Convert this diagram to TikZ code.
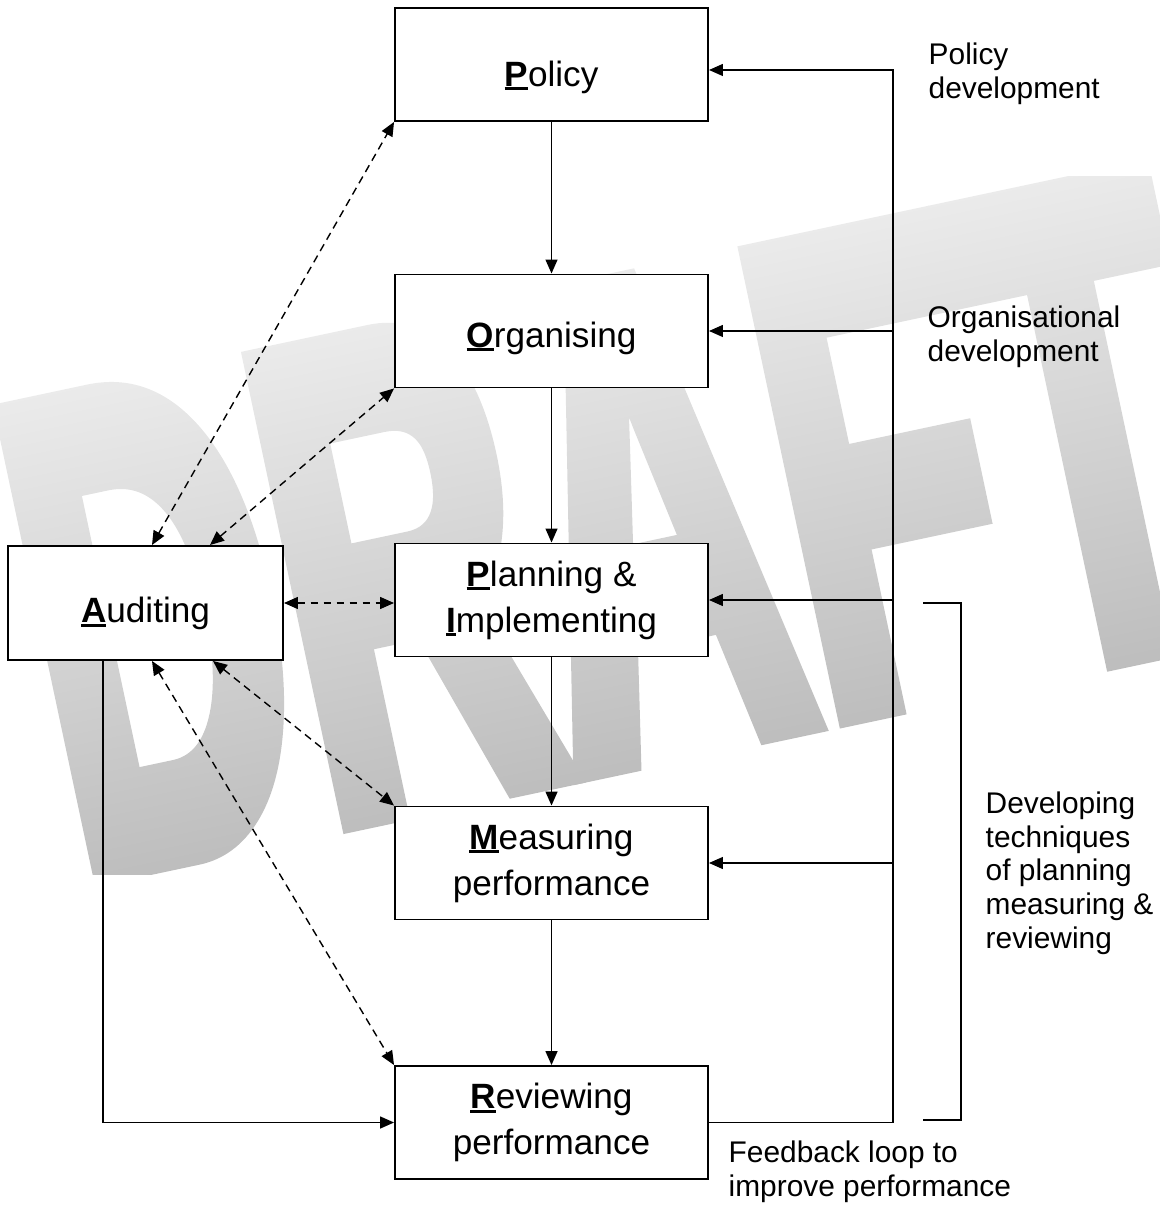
\documentclass[tikz,border=0pt]{standalone}
\usepackage{fontspec}
\setmainfont{Liberation Sans}
\newfontface\draftface{Liberation Sans Bold}[FakeBold=5]
\usetikzlibrary{arrows.meta,fadings}

\definecolor{draftlight}{HTML}{EBEBEB}
\definecolor{draftdark}{HTML}{BDBDBD}

% bold first letter with a heavy underline
\newcommand{\keyletter}[1]{\setbox0=\hbox{\textbf{#1}}\rlap{\rule[-1.2pt]{\wd0}{0.9pt}}\box0}

\begin{document}
\pgfdeclarefading{draftfade}{%
  \begin{pgfpicture}
    \pgftext{\color{white}\scalebox{1.0}[1.9]{\draftface\fontsize{100}{100}\selectfont DRAFT}}%
  \end{pgfpicture}}%
\begin{tikzpicture}[
    box/.style={draw, line width=0.55pt, fill=white, minimum width=3.13cm, minimum height=1.13cm,
                align=center, font=\fontsize{10}{13.1}\selectfont},
    lift/.style={text height=#1, text depth=0pt},
    note/.style={inner sep=0, align=left, anchor=north west, font=\fontsize{8.5}{9.6}\selectfont},
    arrow/.style={line width=0.4pt, -{Triangle[length=1.4mm, width=1.2mm]}},
    dasharrow/.style={line width=0.4pt, dash pattern=on 2.2pt off 1.5pt,
                      {Triangle[length=1.4mm, width=1.2mm]}-{Triangle[length=1.4mm, width=1.2mm]}}
  ]
  \useasboundingbox (0,0) rectangle (11.59,-12.05);

  % watermark
  \begin{scope}[transform canvas={shift={(6.12,-5.25)}, rotate=12}]
    \shade[path fading=draftfade, fit fading=false, top color=draftlight, bottom color=draftdark]
      (-6.3,-2.5) rectangle (6.3,2.5);
  \end{scope}

  % boxes
  \node[box, lift=1.23em] (policy) at (5.515,-0.645) {\keyletter{P}olicy};
  \node[box, lift=0.92em] (organising) at (5.515,-3.31) {\keyletter{O}rganising};
  \node[box] (planning) at (5.515,-6.0) {\keyletter{P}lanning \&\\\keyletter{I}mplementing};
  \node[box] (measuring) at (5.515,-8.63) {\keyletter{M}easuring\\performance};
  \node[box] (reviewing) at (5.515,-11.225) {\keyletter{R}eviewing\\performance};
  \node[box, lift=1.12em, minimum width=2.75cm, minimum height=1.14cm] (auditing) at (1.455,-6.03) {\keyletter{A}uditing};

  % main chain
  \draw[arrow] (policy) -- (organising);
  \draw[arrow] (organising) -- (planning);
  \draw[arrow] (planning) -- (measuring);
  \draw[arrow] (measuring) -- (reviewing);

  % feedback loop
  \coordinate (loop) at (8.93,-0.70);
  \draw[arrow] (reviewing.east) -- (reviewing.east -| loop) -- (loop) -- (loop -| policy.east);
  \draw[arrow] (loop |- organising.east) -- (organising.east);
  \draw[arrow] (loop |- planning.east) -- (planning.east);
  \draw[arrow] (loop |- measuring.east) -- (measuring.east);

  % auditing links
  \draw[arrow] ([xshift=-0.425cm]auditing.south) |- (reviewing.west);
  \draw[dasharrow] ([xshift=0.065cm]auditing.north) -- (policy.south west);
  \draw[dasharrow] ([xshift=0.645cm]auditing.north) -- (organising.south west);
  \draw[dasharrow] (auditing.east) -- (auditing.east -| planning.west);
  \draw[dasharrow] ([xshift=0.675cm]auditing.south) -- (measuring.north west);
  \draw[dasharrow] ([xshift=0.065cm]auditing.south) -- (reviewing.north west);

  % bracket
  \coordinate (brtop) at (9.23,-6.03);
  \coordinate (brbot) at (9.23,-11.20);
  \draw[line width=0.4pt] (brtop) -- ++(0.38,0) |- (brbot);

  % notes
  \node[note] (poldev) at (9.28,-0.42) {Policy\\development};
  \node[note] (orgdev) at (9.27,-3.05) {Organisational\\development};
  \node[note] (techdev) at (9.85,-7.91) {Developing\\techniques\\of planning\\measuring \&\\reviewing};
  \node[note] (feedback) at (7.28,-11.40) {Feedback loop to\\improve performance};
\end{tikzpicture}
\end{document}
